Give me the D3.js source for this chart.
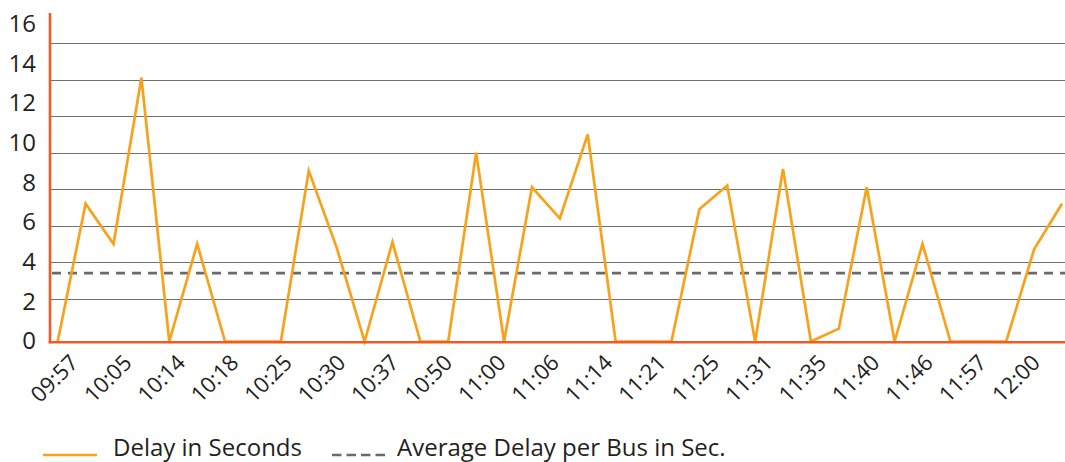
<!DOCTYPE html>
<html>
<head>
<meta charset="utf-8">
<script src="https://cdn.jsdelivr.net/npm/d3@7"></script>
<style>
  html, body { margin: 0; padding: 0; background: #fff; }
  svg { display: block; font-family: "Open Sans", "Noto Sans", sans-serif; }
</style>
</head>
<body>
<svg id="chart" width="1065" height="462"></svg>
<script>
// Arrival-time labels shown under the axis (every second bus)
const timeLabels = ["09:57", "10:05", "10:14", "10:18", "10:25", "10:30", "10:37",
  "10:50", "11:00", "11:06", "11:14", "11:21", "11:25", "11:31", "11:35",
  "11:40", "11:46", "11:57", "12:00"];

// Delay of each bus, in seconds
const delays = [0, 7.2, 5.0, 14.1, 0, 5.0, 0, 0, 0, 9.0, 4.8, 0, 5.1, 0, 0,
  10.0, 0, 8.1, 6.4, 11.0, 0, 0, 0, 6.9, 8.2, 0, 9.1, 0, 0.6, 8.1, 0, 5.0,
  0, 0, 0, 4.7, 7.2];

// Average delay per bus, in seconds
const averageDelay = 3.4;

// Value ticks on the delay axis
const yTicks = [0, 2, 4, 6, 8, 10, 12, 14, 16];

const colors = {
  line: "#f8a21c",
  axis: "#f15a24",
  grid: "#707070",
  average: "#6a6a6a",
  text: "#231f20"
};

const svg = d3.select("#chart");
const left = 50, right = 1065, bottom = 342;

// Delay scale: the lowest band is a little taller than the rest
const y = d3.scaleLinear().domain([0, 2, 16]).range([bottom - 0.5, 298.7, 43]);
// Scale used to place the printed value labels
const yLabel = d3.scaleLinear().domain([0, 16]).range([341, 24]);

// One point per bus
const x = d3.scalePoint().domain(d3.range(delays.length)).range([57.7, 1062]);
// Time labels centred in equal bands across the plot
const xLabel = d3.scalePoint().domain(timeLabels).range([left, right]).padding(0.5);

// Horizontal gridlines
svg.append("g")
  .selectAll("line")
  .data(yTicks.filter(d => d > 0))
  .join("line")
  .attr("x1", left).attr("x2", right)
  .attr("y1", d => Math.round(y(d)) + 0.5)
  .attr("y2", d => Math.round(y(d)) + 0.5)
  .attr("stroke", colors.grid)
  .attr("stroke-width", 1);

// Average delay reference line
svg.append("line")
  .attr("x1", left + 2).attr("x2", right)
  .attr("y1", y(averageDelay)).attr("y2", y(averageDelay))
  .attr("stroke", colors.average)
  .attr("stroke-width", 2.6)
  .attr("stroke-dasharray", "9,7");

// Delay line
svg.append("path")
  .datum(delays)
  .attr("fill", "none")
  .attr("stroke", colors.line)
  .attr("stroke-width", 2.7)
  .attr("stroke-linejoin", "miter")
  .attr("d", d3.line().x((d, i) => x(i)).y(d => y(d)));

// Axis lines
svg.append("line")
  .attr("x1", left).attr("x2", left)
  .attr("y1", 13).attr("y2", bottom + 1.3)
  .attr("stroke", colors.axis).attr("stroke-width", 2.6);
svg.append("line")
  .attr("x1", left - 1.3).attr("x2", right)
  .attr("y1", bottom + 0.3).attr("y2", bottom + 0.3)
  .attr("stroke", colors.axis).attr("stroke-width", 2.6);

// Value labels
const yAxis = svg.append("g")
  .attr("transform", "translate(36,0)")
  .call(d3.axisLeft(yLabel).tickValues(yTicks).tickSize(0).tickPadding(0));
yAxis.select(".domain").remove();
yAxis.selectAll("text")
  .attr("font-family", "'Open Sans', sans-serif")
  .attr("font-size", 24)
  .attr("fill", colors.text);

// Rotated time labels
svg.append("g")
  .selectAll("text")
  .data(timeLabels)
  .join("text")
  .attr("transform", d => `translate(${xLabel(d) + 3},364) rotate(-45)`)
  .attr("text-anchor", "end")
  .attr("font-size", 22)
  .attr("fill", colors.text)
  .text(d => d);

// Legend
const legend = svg.append("g");
legend.append("line")
  .attr("x1", 43).attr("x2", 97).attr("y1", 455).attr("y2", 455)
  .attr("stroke", colors.line).attr("stroke-width", 2.6);
legend.append("text")
  .attr("x", 113).attr("y", 456)
  .attr("font-size", 24).attr("fill", colors.text)
  .text("Delay in Seconds");
legend.append("line")
  .attr("x1", 332).attr("x2", 386).attr("y1", 455).attr("y2", 455)
  .attr("stroke", colors.average).attr("stroke-width", 2.6)
  .attr("stroke-dasharray", "9.5,5");
legend.append("text")
  .attr("x", 397).attr("y", 456)
  .attr("font-size", 24).attr("fill", colors.text)
  .text("Average Delay per Bus in Sec.");
</script>
</body>
</html>
